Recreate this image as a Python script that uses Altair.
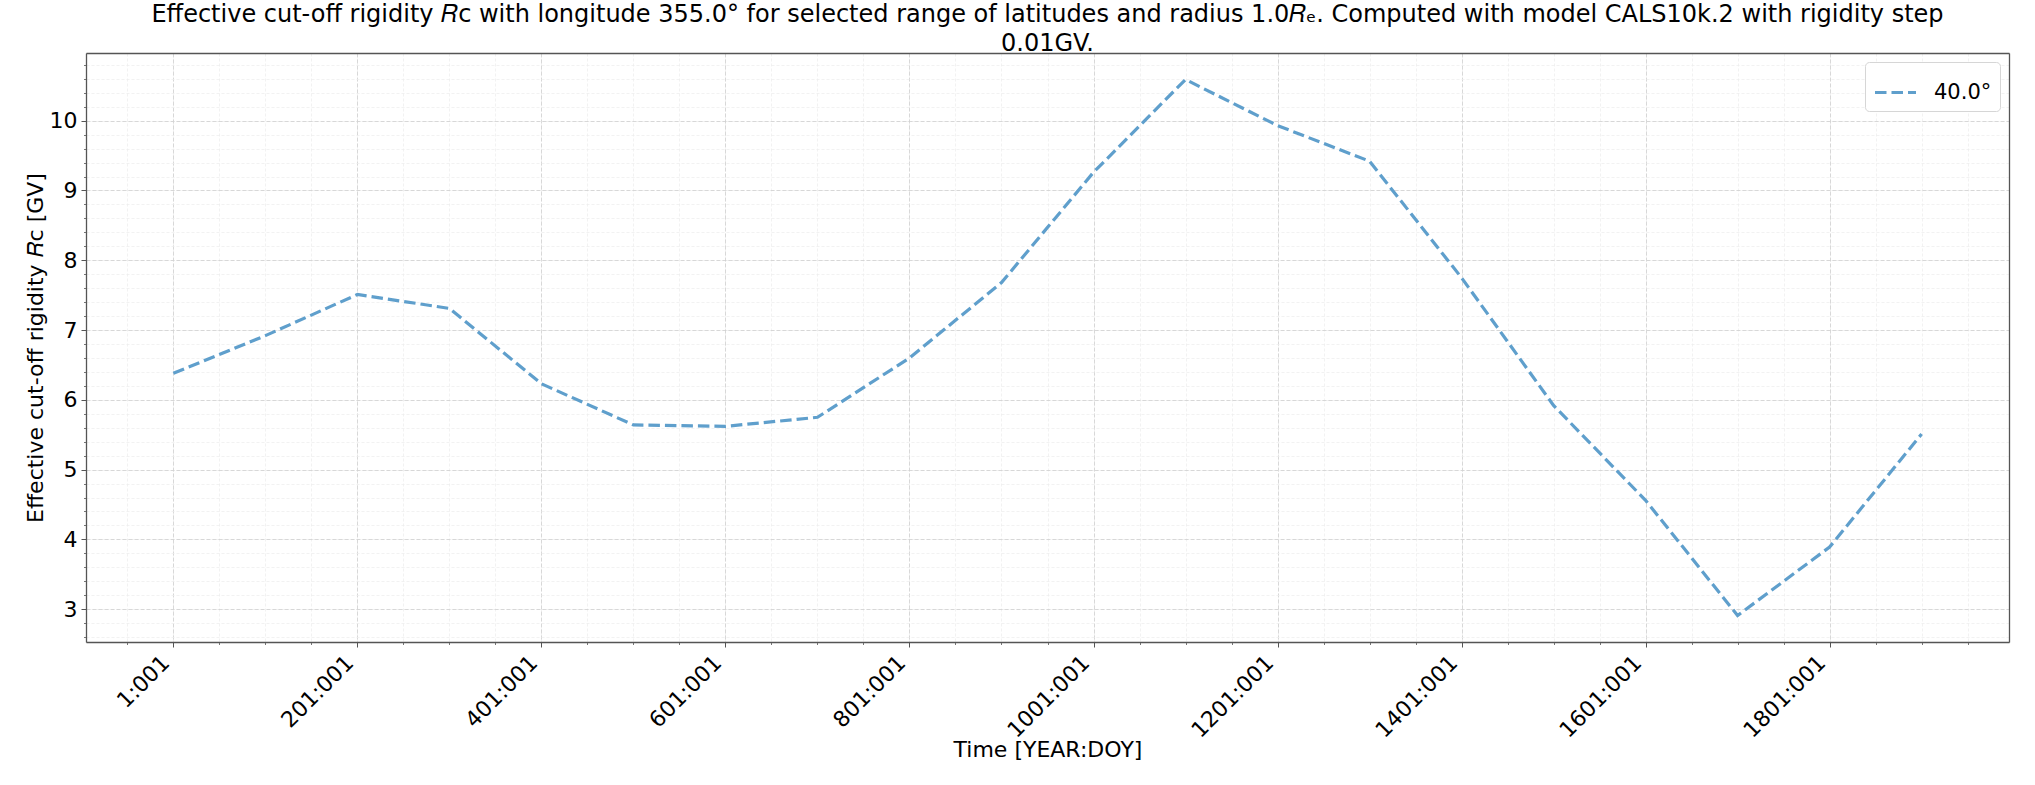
import altair as alt
import pandas as pd

# ---- data ----
years = [1, 101, 201, 301, 401, 501, 601, 701, 801, 901, 1001, 1101, 1201,
         1301, 1401, 1501, 1601, 1701, 1801, 1901]
rc = [6.38, 6.92, 7.51, 7.31, 6.23, 5.64, 5.62, 5.75, 6.60, 7.68, 9.26, 10.59,
      9.93, 9.42, 7.75, 5.92, 4.56, 2.91, 3.89, 5.51]
series_name = ["40.0°"]

x_tick_values = [1, 201, 401, 601, 801, 1001, 1201, 1401, 1601, 1801]
x_tick_labels = ["1:001", "201:001", "401:001", "601:001", "801:001",
                 "1001:001", "1201:001", "1401:001", "1601:001", "1801:001"]
y_tick_values = [3, 4, 5, 6, 7, 8, 9, 10]

x_minor = [-49 + 50 * i for i in range(41)]
y_minor = [round(2.6 + 0.2 * i, 1) for i in range(42)]

title_lines = [
    "Effective cut-off rigidity 𝑅ᴄ with longitude 355.0° for selected range of latitudes and radius 1.0𝑅ₑ. Computed with model CALS10k.2 with rigidity step",
    "0.01GV.",
]

df = pd.DataFrame({"year": years, "rc": rc, "lat": series_name * len(years)})

label_map = "{" + ",".join(f"'{v}':'{l}'" for v, l in zip(x_tick_values, x_tick_labels)) + "}"

FONT = "DejaVu Sans"
LINE_COLOR = "#5f9fcc"
DASH = [11.5, 5]
LW = 3.2
FRAME = "#555555"
FRAME_W = 1.3

x_scale = alt.Scale(domain=[-94, 1996], nice=False, zero=False)
y_scale = alt.Scale(domain=[2.53, 10.97], nice=False, zero=False)

minor = alt.Chart(df).mark_line(opacity=0).encode(
    x=alt.X("year:Q", scale=x_scale,
            axis=alt.Axis(values=x_minor, labels=False, title=None, orient="bottom",
                          tickSize=2.5, tickColor="#777777", domain=False,
                          grid=True, gridColor="#ededed", gridDash=[3, 2], gridWidth=0.7)),
    y=alt.Y("rc:Q", scale=y_scale,
            axis=alt.Axis(values=y_minor, labels=False, title=None, orient="left",
                          tickSize=2.5, tickColor="#777777", domain=False,
                          grid=True, gridColor="#ededed", gridDash=[3, 2], gridWidth=0.7)),
)

frame = alt.Chart(df).mark_line(opacity=0).encode(
    x=alt.X("year:Q", scale=x_scale,
            axis=alt.Axis(orient="top", labels=False, ticks=False, grid=False, title=None,
                          domain=True, domainColor=FRAME, domainWidth=FRAME_W)),
    y=alt.Y("rc:Q", scale=y_scale,
            axis=alt.Axis(orient="right", labels=False, ticks=False, grid=False, title=None,
                          domain=True, domainColor=FRAME, domainWidth=FRAME_W)),
)

main = alt.Chart(df).mark_line(strokeDash=DASH, strokeWidth=LW).encode(
    x=alt.X("year:Q", scale=x_scale,
            axis=alt.Axis(values=x_tick_values, labelExpr=f"{label_map}[datum.value]",
                          title="Time [YEAR:DOY]", orient="bottom",
                          labelAngle=315, labelAlign="right", labelBaseline="middle",
                          labelPadding=12, labelOffset=-8, labelFontSize=22, labelFont=FONT,
                          labelColor="black", tickSize=5, tickColor=FRAME,
                          domain=True, domainColor=FRAME, domainWidth=FRAME_W,
                          grid=True, gridColor="#cfcfcf",
                          gridDash=[4, 2], gridWidth=0.8, labelOverlap=False,
                          titleFont=FONT, titleFontSize=22, titleFontWeight="normal",
                          titleColor="black", titleY=107, titleBaseline="middle")),
    y=alt.Y("rc:Q", scale=y_scale,
            axis=alt.Axis(values=y_tick_values, title="Effective cut-off rigidity 𝑅ᴄ [GV]",
                          orient="left", labelPadding=4, labelFontSize=22, labelFont=FONT,
                          labelColor="black", tickSize=5, tickColor=FRAME,
                          domain=True, domainColor=FRAME, domainWidth=FRAME_W,
                          grid=True, gridColor="#cfcfcf",
                          gridDash=[4, 2], gridWidth=0.8,
                          titleFont=FONT, titleFontSize=22, titleFontWeight="normal",
                          titleColor="black", titleX=-51, titleAngle=270,
                          titleBaseline="middle")),
    color=alt.Color("lat:N", scale=alt.Scale(domain=series_name, range=[LINE_COLOR]),
                    legend=alt.Legend(title=None, orient="top-right", offset=9,
                                      symbolType="stroke", symbolDash=DASH,
                                      symbolStrokeWidth=LW, symbolSize=1681,
                                      labelFont=FONT, labelFontSize=21,
                                      labelColor="black", labelOffset=16,
                                      padding=8, cornerRadius=4,
                                      strokeColor="#d6d6d6", fillColor="white")),
)

chart = alt.layer(minor, frame, main).resolve_axis(x="independent", y="independent").properties(
    width=1923, height=589,
    autosize=alt.AutoSizeParams(type="none"),
    padding={"left": 86, "top": 53, "right": 26, "bottom": 143},
    title=alt.Title(text=title_lines, font=FONT, fontSize=24, fontWeight="normal",
                    color="black", anchor="middle", offset=-3, lineHeight=29),
).configure_view(stroke=None).configure(background="white")

chart.save("out.html", embed_options={"renderer": "svg", "actions": False})
